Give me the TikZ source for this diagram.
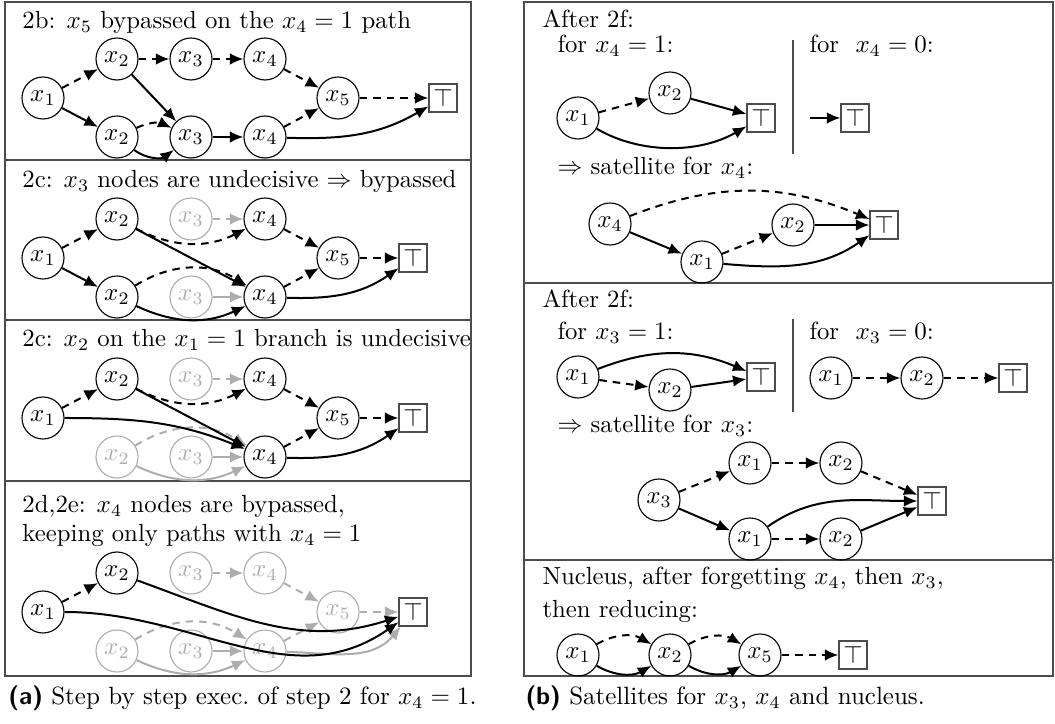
\documentclass[tikz,border=0pt]{standalone}
\usetikzlibrary{arrows.meta}
\definecolor{lightg}{gray}{0.68}
\definecolor{frameg}{gray}{0.3}
\begin{document}
\begin{tikzpicture}[x=0.4pt,y=-0.4pt,
  vn/.style={circle,draw,line width=0.45pt,minimum size=16.8pt,inner sep=0pt},
  gn/.style={vn,draw=lightg,text=lightg},
  tn/.style={rectangle,draw=frameg,line width=0.45pt,minimum size=11.2pt,inner sep=0pt},
  hi/.style={-{Latex[length=5.4pt,width=4.6pt]},line width=0.8pt},
  lo/.style={hi,dash pattern=on 3pt off 2.4pt},
  ghi/.style={hi,draw=lightg},
  glo/.style={lo,draw=lightg},
  frame/.style={draw=frameg,line width=0.45pt},
  txt/.style={anchor=base west,inner sep=0pt,font=\fontsize{9.9}{12}\selectfont},
  captxt/.style={anchor=base west,inner sep=0pt,font=\fontsize{10}{12}\selectfont}]
\useasboundingbox (0,0) rectangle (1055,724);
% frames
\draw[frame] (5,2) rectangle (471,676);
\draw[frame] (5,160) -- (471,160);
\draw[frame] (5,320) -- (471,320);
\draw[frame] (5,481) -- (471,481);
\draw[frame] (524,2) rectangle (1053,676);
\draw[frame] (524,283) -- (1053,283);
\draw[frame] (524,560) -- (1053,560);

% ---------- Section 2b ----------
\node[txt] (ta) at (22,29) {2b: $x_5$ bypassed on the $x_4=1$ path};
\node[vn] (a1) at (43,98) {$x_1$};
\node[vn] (a2t) at (117,59) {$x_2$};
\node[vn] (a3t) at (191,59) {$x_3$};
\node[vn] (a4t) at (265,59) {$x_4$};
\node[vn] (a5) at (338,98) {$x_5$};
\node[tn] (aT) at (443,98) {$\top$};
\node[vn] (a2b) at (117,137) {$x_2$};
\node[vn] (a3b) at (191,137) {$x_3$};
\node[vn] (a4b) at (265,137) {$x_4$};
\draw[lo] (a1) -- (a2t);
\draw[hi] (a1) -- (a2b);
\draw[lo] (a2t) -- (a3t);
\draw[hi] (a2t) -- (a3b);
\draw[lo] (a3t) -- (a4t);
\draw[lo] (a4t) -- (a5);
\draw[lo] (a2b) to[bend left=25] (a3b);
\draw[hi] (a2b) to[bend right=37] (a3b);
\draw[hi] (a3b) -- (a4b);
\draw[lo] (a4b) -- (a5);
\draw[hi] (a4b) to[out=-2,in=-150] (aT);
\draw[lo] (a5) -- (aT);

% ---------- Section 2c (x3) ----------
\node[txt] (tb) at (22,188) {2c: $x_3$ nodes are undecisive $\Rightarrow$ bypassed};
\node[vn] (b1) at (43,258) {$x_1$};
\node[vn] (b2t) at (117,219) {$x_2$};
\node[gn] (b3t) at (191,219) {$x_3$};
\node[vn] (b4t) at (265,219) {$x_4$};
\node[vn] (b5) at (338,258) {$x_5$};
\node[tn] (bT) at (413,258) {$\top$};
\node[vn] (b2b) at (117,297) {$x_2$};
\node[gn] (b3b) at (191,297) {$x_3$};
\node[vn] (b4b) at (265,297) {$x_4$};
\draw[glo] (b3t) -- (b4t);
\draw[ghi] (b3b) -- (b4b);
\draw[lo] (b1) -- (b2t);
\draw[hi] (b1) -- (b2b);
\draw[lo] (b2t) to[bend right=27] (b4t);
\draw[hi] (b2t) -- (b4b);
\draw[lo] (b4t) -- (b5);
\draw[lo] (b2b) to[bend left=32] (b4b);
\draw[hi] (b2b) to[bend right=25] (b4b);
\draw[lo] (b4b) -- (b5);
\draw[hi] (b4b) to[out=-2,in=-145] (bT);
\draw[lo] (b5) -- (bT);

% ---------- Section 2c (x2) ----------
\node[txt] (tc) at (22,347) {2c: $x_2$ on the $x_1=1$ branch is undecisive};
\node[vn] (c1) at (43,418) {$x_1$};
\node[vn] (c2t) at (117,379) {$x_2$};
\node[gn] (c3t) at (191,379) {$x_3$};
\node[vn] (c4t) at (265,379) {$x_4$};
\node[vn] (c5) at (338,418) {$x_5$};
\node[tn] (cT) at (413,418) {$\top$};
\node[gn] (c2b) at (117,457) {$x_2$};
\node[gn] (c3b) at (191,457) {$x_3$};
\node[vn] (c4b) at (265,457) {$x_4$};
\draw[glo] (c3t) -- (c4t);
\draw[ghi] (c3b) -- (c4b);
\draw[glo] (c2b) to[bend left=32] (c4b);
\draw[ghi] (c2b) to[bend right=25] (c4b);
\draw[lo] (c1) -- (c2t);
\draw[hi] (c1) to[out=0,in=158] (c4b);
\draw[lo] (c2t) to[bend right=27] (c4t);
\draw[hi] (c2t) -- (c4b);
\draw[lo] (c4t) -- (c5);
\draw[lo] (c4b) -- (c5);
\draw[hi] (c4b) to[out=-2,in=-145] (cT);
\draw[lo] (c5) -- (cT);

% ---------- Section 2d,2e ----------
\node[txt] (td1) at (22,513) {2d,2e: $x_4$ nodes are bypassed,};
\node[txt] (td2) at (22,542) {keeping only paths with $x_4=1$};
\node[vn] (d1) at (43,612) {$x_1$};
\node[vn] (d2t) at (117,573) {$x_2$};
\node[gn] (d3t) at (191,573) {$x_3$};
\node[gn] (d4t) at (265,573) {$x_4$};
\node[gn] (d5) at (338,612) {$x_5$};
\node[tn] (dT) at (413,612) {$\top$};
\node[gn] (d2b) at (117,651) {$x_2$};
\node[gn] (d3b) at (191,651) {$x_3$};
\node[gn] (d4b) at (265,651) {$x_4$};
\draw[glo] (d3t) -- (d4t);
\draw[glo] (d4t) -- (d5);
\draw[glo] (d5) -- (dT);
\draw[glo] (d2b) to[bend left=32] (d4b);
\draw[ghi] (d2b) to[bend right=25] (d4b);
\draw[ghi] (d3b) -- (d4b);
\draw[glo] (d4b) -- (d5);
\draw[ghi] (d4b) to[out=-2,in=-130] (dT);
\draw[lo] (d1) -- (d2t);
\draw[hi] (d2t) to[out=-20,in=-162] (dT);
\draw[hi] (d1) to[out=0,in=-145] (dT);

% ---------- Right: satellite x4 ----------
\node[txt] (te0) at (542,28) {After 2f:};
\node[txt] (te1) at (557,53) {for $x_4=1$:};
\node[txt] (te2) at (809,53) {for \ $x_4=0$:};
\node[vn] (e1) at (578,118) {$x_1$};
\node[vn] (e2) at (670,93) {$x_2$};
\node[tn] (eT) at (761,118) {$\top$};
\node[tn] (eT0) at (855,118) {$\top$};
\coordinate (es) at (810,118);
\draw[lo] (e1) -- (e2);
\draw[hi] (e2) -- (eT);
\draw[hi] (e1) to[out=-30,in=-150,looseness=0.9] (eT);
\draw[hi] (es) -- (eT0);
\draw[frame] (793,40) -- (793,154);
\node[txt] (te3) at (557,175) {$\Rightarrow$ satellite for $x_4$:};
\node[vn] (f4) at (610,224) {$x_4$};
\node[vn] (f1) at (702,262) {$x_1$};
\node[vn] (f2) at (793,225) {$x_2$};
\node[tn] (fT) at (884,225) {$\top$};
\draw[lo] (f4) to[bend left=22] (fT);
\draw[hi] (f4) -- (f1);
\draw[lo] (f1) -- (f2);
\draw[hi] (f2) -- (fT);
\draw[hi] (f1) to[out=-5,in=-145] (fT);

% ---------- Right: satellite x3 ----------
\node[txt] (tg0) at (542,308) {After 2f:};
\node[txt] (tg1) at (557,340) {for $x_3=1$:};
\node[txt] (tg2) at (809,340) {for \ $x_3=0$:};
\node[vn] (g1) at (578,377) {$x_1$};
\node[vn] (g2) at (670,390) {$x_2$};
\node[tn] (gT) at (761,377) {$\top$};
\draw[hi] (g1) to[bend left=22] (gT);
\draw[lo] (g1) -- (g2);
\draw[hi] (g2) -- (gT);
\node[vn] (g1r) at (831,378) {$x_1$};
\node[vn] (g2r) at (922,378) {$x_2$};
\node[tn] (gTr) at (1013,378) {$\top$};
\draw[lo] (g1r) -- (g2r);
\draw[lo] (g2r) -- (gTr);
\draw[frame] (793,319) -- (793,412);
\node[txt] (tg3) at (557,433) {$\Rightarrow$ satellite for $x_3$:};
\node[vn] (h3) at (659,500) {$x_3$};
\node[vn] (h1a) at (750,463) {$x_1$};
\node[vn] (h2a) at (841,463) {$x_2$};
\node[tn] (hT) at (932,501) {$\top$};
\node[vn] (h1b) at (750,539) {$x_1$};
\node[vn] (h2b) at (841,539) {$x_2$};
\draw[lo] (h3) -- (h1a);
\draw[hi] (h3) -- (h1b);
\draw[lo] (h1a) -- (h2a);
\draw[lo] (h2a) -- (hT);
\draw[lo] (h1b) -- (h2b);
\draw[hi] (h2b) -- (hT);
\draw[hi] (h1b) to[out=35,in=180] (hT);

% ---------- Right: nucleus ----------
\node[txt] (tn1) at (542,585) {Nucleus, after forgetting $x_4$, then $x_3$,};
\node[txt] (tn2) at (542,618) {then reducing:};
\node[vn] (n1) at (578,655) {$x_1$};
\node[vn] (n2) at (670,655) {$x_2$};
\node[vn] (n5) at (760,655) {$x_5$};
\node[tn] (nT) at (853,655) {$\top$};
\draw[lo] (n1) to[bend left=30] (n2);
\draw[hi] (n1) to[bend right=30] (n2);
\draw[lo] (n2) to[bend left=30] (n5);
\draw[hi] (n2) to[bend right=30] (n5);
\draw[lo] (n5) -- (nT);

% ---------- captions ----------
\node[captxt] (capa) at (8,705) {{\sffamily\bfseries (a)} Step by step exec.\ of step 2 for $x_4 = 1$.};
\node[captxt] (capb) at (525,705) {{\sffamily\bfseries (b)} Satellites for $x_3$, $x_4$ and nucleus.};
\end{tikzpicture}
\end{document}
